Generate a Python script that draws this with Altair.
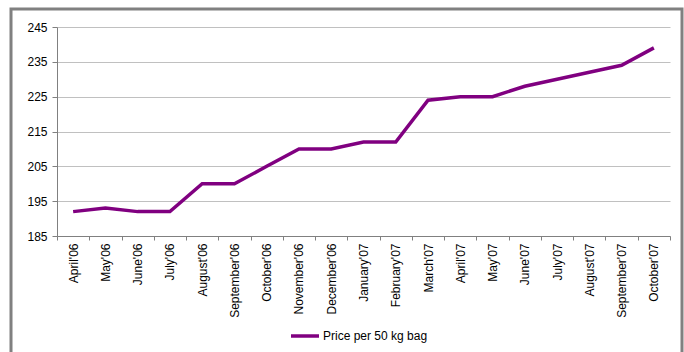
import altair as alt
import pandas as pd

months = ["April'06", "May'06", "June'06", "July'06", "August'06", "September'06",
          "October'06", "November'06", "December'06", "January'07", "February'07",
          "March'07", "April'07", "May'07", "June'07", "July'07", "August'07",
          "September'07", "October'07"]
prices = [192, 193, 192, 192, 200, 200, 205, 210, 210, 212, 212, 224, 225, 225,
          228, 230, 232, 234, 239]
series_name = "Price per 50 kg bag"

df = pd.DataFrame({"month": months, "price": prices, "series": series_name})

FONT = "Liberation Sans"

line = alt.Chart(df).mark_line(strokeWidth=3.5).encode(
    x=alt.X("month:N", sort=months, title=None,
            scale=alt.Scale(paddingInner=0, paddingOuter=0),
            axis=alt.Axis(labelAngle=270, labelAlign="right", labelBaseline="middle",
                          tickBand="extent", tickSize=4, labelPadding=3,
                          domainColor="#808080", tickColor="#808080",
                          labelFont=FONT, labelFontSize=12, labelColor="#000000",
                          grid=False)),
    y=alt.Y("price:Q", title=None,
            scale=alt.Scale(domain=[185, 245], nice=False, zero=False),
            axis=alt.Axis(values=[185, 195, 205, 215, 225, 235, 245],
                          tickSize=5, labelPadding=5,
                          domainColor="#808080", tickColor="#808080",
                          gridColor="#c0c0c0", gridWidth=1,
                          labelFont=FONT, labelFontSize=12, labelColor="#000000")),
    color=alt.Color("series:N", scale=alt.Scale(range=["#800080"]),
                    legend=alt.Legend(title=None, orient="none", legendX=232, legendY=293,
                                      symbolType="stroke", symbolSize=784,
                                      symbolStrokeWidth=3.5, labelFont=FONT,
                                      labelFontSize=12, labelColor="#000000",
                                      labelOffset=2)),
)

frame = alt.Chart(pd.DataFrame({"a": [0]})).mark_rect(
    fill=None, stroke="#808080", strokeWidth=3
).encode(x=alt.value(-46), x2=alt.value(625), y=alt.value(-18), y2=alt.value(340))

chart = alt.layer(frame, line).properties(
    width=613, height=209,
    autosize=alt.AutoSizeParams(type="none"),
    padding={"left": 57, "top": 27, "right": 14, "bottom": 116},
    background="#ffffff",
).configure_view(stroke=None)

chart.save("out.html", embed_options={"renderer": "svg", "actions": False})
